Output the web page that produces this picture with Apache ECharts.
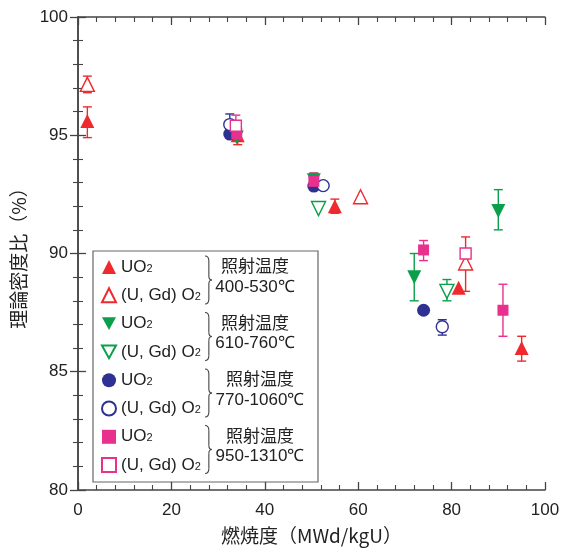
<!DOCTYPE html>
<html>
<head>
<meta charset="utf-8">
<script src="https://cdn.jsdelivr.net/npm/echarts@6/dist/echarts.min.js"></script>
<style>
  html, body { margin: 0; padding: 0; background: #fff; }
  #main { width: 568px; height: 550px; }
</style>
</head>
<body>
<div id="main"></div>
<script>
// 燃焼度 vs 理論密度比
var redUO2 = [[2, 95.6], [34.2, 95.0], [55, 92.0], [81.5, 88.55], [95, 86.0]];
var redGd = [[2, 97.15], [60.5, 92.4], [83, 89.6]];
var greenUO2 = [[34, 94.9], [50.5, 93.1], [72, 89.0], [90, 91.8]];
var greenGd = [[51.5, 91.9], [79, 88.4]];
var blueUO2 = [[32.5, 95.05], [50.5, 92.85], [74, 87.6]];
var blueGd = [[32.5, 95.45], [52.5, 92.87], [78, 86.9]];
var pinkUO2 = [[34, 95.05], [50.5, 93.05], [74, 90.15], [91, 87.6]];
var pinkGd = [[33.8, 95.4], [83, 90.0]];

// error bars: [x, low, high]
var redUO2Err = [[2, 94.9, 96.2], [34.2, 94.6, 95.3], [55, 91.7, 92.3], [95, 85.45, 86.5]];
var redGdErr = [[2, 96.8, 97.5], [83, 88.4, 90.7]];
var greenUO2Err = [[34, 94.8, 95.2], [50.5, 92.9, 93.4], [72, 88.0, 90.0], [90, 91.0, 92.7]];
var greenGdErr = [[79, 88.0, 88.9]];
var blueGdErr = [[32.5, 95.2, 95.9], [78, 86.55, 87.2]];
var pinkUO2Err = [[50.5, 92.8, 93.4], [74, 89.7, 90.55], [91, 86.5, 88.7]];
var pinkGdErr = [[33.8, 95.1, 95.85]];

var tempRanges = ['400-530℃', '610-760℃', '770-1060℃', '950-1310℃'];
var colors = ['#ee2a2f', '#0b9f4b', '#2e3192', '#e8318e'];

var cjk = '"Noto Sans CJK JP", sans-serif';
var latin = '"Liberation Sans", Arial, sans-serif';

var myChart = echarts.init(document.getElementById('main'));

function scat(name, data, color, symbol, open, size, rotate) {
  return {
    name: name,
    type: 'scatter',
    data: data,
    symbol: symbol,
    symbolSize: size,
    symbolRotate: rotate || 0,
    z: 3,
    itemStyle: open
      ? { color: '#fff', borderColor: color, borderWidth: 1.4, opacity: 1 }
      : { color: color, opacity: 1 }
  };
}

function errBars(data, color) {
  return {
    name: 'err',
    type: 'custom',
    data: data,
    z: 2,
    renderItem: function (params, api) {
      var x = api.value(0);
      var lo = api.coord([x, api.value(1)]);
      var hi = api.coord([x, api.value(2)]);
      var w = 4.5;
      var st = { stroke: color, lineWidth: 1.4 };
      return {
        type: 'group',
        children: [
          { type: 'line', shape: { x1: lo[0], y1: lo[1], x2: hi[0], y2: hi[1] }, style: st },
          { type: 'line', shape: { x1: lo[0] - w, y1: lo[1], x2: lo[0] + w, y2: lo[1] }, style: st },
          { type: 'line', shape: { x1: hi[0] - w, y1: hi[1], x2: hi[0] + w, y2: hi[1] }, style: st }
        ]
      };
    }
  };
}

var downTri = 'path://M0,0 L10,0 L5,9 Z';
var legendData = [
  { name: 'a1', icon: 'triangle' }, { name: 'a2', icon: 'triangle' },
  { name: 'b1', icon: downTri }, { name: 'b2', icon: downTri },
  { name: 'c1', icon: 'circle' }, { name: 'c2', icon: 'circle' },
  { name: 'd1', icon: 'rect' }, { name: 'd2', icon: 'rect' }
];

// legend box + braces + temperature text
var graphics = [{
  type: 'rect',
  shape: { x: 93, y: 251, width: 225, height: 231 },
  style: { fill: '#fff', stroke: '#666', lineWidth: 1.2 },
  z: -10
}];
var centers = [255, 255, 260, 260];
for (var g = 0; g < 4; g++) {
  var y0 = 256 + g * 56.5, y1 = y0 + 48, ym = (y0 + y1) / 2;
  var bx = 205, bw = 7;
  var bst = { stroke: '#444', lineWidth: 1.1, fill: null };
  graphics.push(
    { type: 'bezierCurve', shape: { x1: bx, y1: y0, cpx1: bx + bw * 0.55, cpy1: y0, x2: bx + bw * 0.55, y2: y0 + 5 }, style: bst },
    { type: 'line', shape: { x1: bx + bw * 0.55, y1: y0 + 5, x2: bx + bw * 0.55, y2: ym - 4 }, style: bst },
    { type: 'bezierCurve', shape: { x1: bx + bw * 0.55, y1: ym - 4, cpx1: bx + bw * 0.55, cpy1: ym, x2: bx + bw, y2: ym }, style: bst },
    { type: 'bezierCurve', shape: { x1: bx + bw, y1: ym, cpx1: bx + bw * 0.55, cpy1: ym, x2: bx + bw * 0.55, y2: ym + 4 }, style: bst },
    { type: 'line', shape: { x1: bx + bw * 0.55, y1: ym + 4, x2: bx + bw * 0.55, y2: y1 - 5 }, style: bst },
    { type: 'bezierCurve', shape: { x1: bx + bw * 0.55, y1: y1 - 5, cpx1: bx + bw * 0.55, cpy1: y1, x2: bx, y2: y1 }, style: bst },
    { type: 'text', x: centers[g], y: y0 + 10, style: { text: '照射温度', font: '17px ' + cjk, fill: '#222', align: 'center', verticalAlign: 'middle' } },
    { type: 'text', x: centers[g], y: y0 + 31, style: { text: tempRanges[g], font: '17px ' + latin, fill: '#222', align: 'center', verticalAlign: 'middle' } }
  );
}

myChart.setOption({
  backgroundColor: '#fff',
  animation: false,
  grid: { left: 78, right: 23, top: 17, bottom: 56 },
  legend: {
    orient: 'vertical',
    left: 101,
    top: 258.5,
    padding: 0,
    itemWidth: 14,
    itemHeight: 14,
    itemGap: 11.3,
    selectedMode: false,
    data: legendData,
    formatter: function (n) {
      return n.charAt(1) === '1' ? 'UO{s|2}' : '(U, Gd) O{s|2}';
    },
    textStyle: {
      fontFamily: latin,
      fontSize: 17,
      color: '#222',
      lineHeight: 14,
      rich: { s: { fontSize: 11, fontFamily: latin, verticalAlign: 'bottom', lineHeight: 14, color: '#222' } }
    }
  },
  xAxis: [{
    type: 'value', min: 0, max: 100, interval: 20,
    name: '燃焼度（MWd/kgU）', nameLocation: 'middle', nameGap: 36,
    nameTextStyle: { fontFamily: cjk, fontSize: 19, color: '#222' },
    axisLine: { lineStyle: { color: '#444', width: 1.5 } },
    axisTick: { inside: true, length: 8, lineStyle: { color: '#444', width: 1.3 } },
    minorTick: { show: true, splitNumber: 5, length: 5, lineStyle: { color: '#444', width: 1.1 } },
    axisLabel: { fontFamily: latin, fontSize: 17, color: '#222', margin: 12 },
    splitLine: { show: false }
  }, {
    type: 'value', min: 0, max: 100, interval: 20, position: 'top',
    axisLine: { show: true, lineStyle: { color: '#444', width: 1.5 } },
    axisTick: { inside: true, length: 8, lineStyle: { color: '#444', width: 1.3 } },
    minorTick: { show: true, splitNumber: 5, length: 5, lineStyle: { color: '#444', width: 1.1 } },
    axisLabel: { show: false }, splitLine: { show: false }
  }],
  yAxis: [{
    type: 'value', min: 80, max: 100, interval: 5,
    name: '理論密度比（%）', nameLocation: 'middle', nameGap: 50,
    nameTextStyle: { fontFamily: cjk, fontSize: 19, color: '#222' },
    axisLine: { show: true, lineStyle: { color: '#444', width: 1.5 } },
    axisTick: { inside: true, length: 8, lineStyle: { color: '#444', width: 1.3 } },
    minorTick: { show: true, splitNumber: 5, length: 5, lineStyle: { color: '#444', width: 1.1 } },
    axisLabel: { fontFamily: latin, fontSize: 17, color: '#222', margin: 10 },
    splitLine: { show: false }
  }, {
    type: 'value', min: 80, max: 100, interval: 5, position: 'right',
    axisLine: { show: true, lineStyle: { color: '#444', width: 1.5 } },
    axisTick: { inside: true, length: 8, lineStyle: { color: '#444', width: 1.3 } },
    minorTick: { show: true, splitNumber: 5, length: 5, lineStyle: { color: '#444', width: 1.1 } },
    axisLabel: { show: false }, splitLine: { show: false }
  }],
  graphic: graphics,
  series: [
    errBars(redUO2Err, colors[0]),
    errBars(redGdErr, colors[0]),
    errBars(greenUO2Err, colors[1]),
    errBars(greenGdErr, colors[1]),
    errBars(blueGdErr, colors[2]),
    errBars(pinkUO2Err, colors[3]),
    errBars(pinkGdErr, colors[3]),
    scat('a1', redUO2, colors[0], 'triangle', false, 14),
    scat('a2', redGd, colors[0], 'triangle', true, 14),
    scat('b1', greenUO2, colors[1], 'triangle', false, 14, 180),
    scat('b2', greenGd, colors[1], 'triangle', true, 14, 180),
    scat('c1', blueUO2, colors[2], 'circle', false, 13),
    scat('c2', blueGd, colors[2], 'circle', true, 12),
    scat('d1', pinkUO2, colors[3], 'rect', false, 11),
    scat('d2', pinkGd, colors[3], 'rect', true, 11)
  ]
});
</script>
</body>
</html>
